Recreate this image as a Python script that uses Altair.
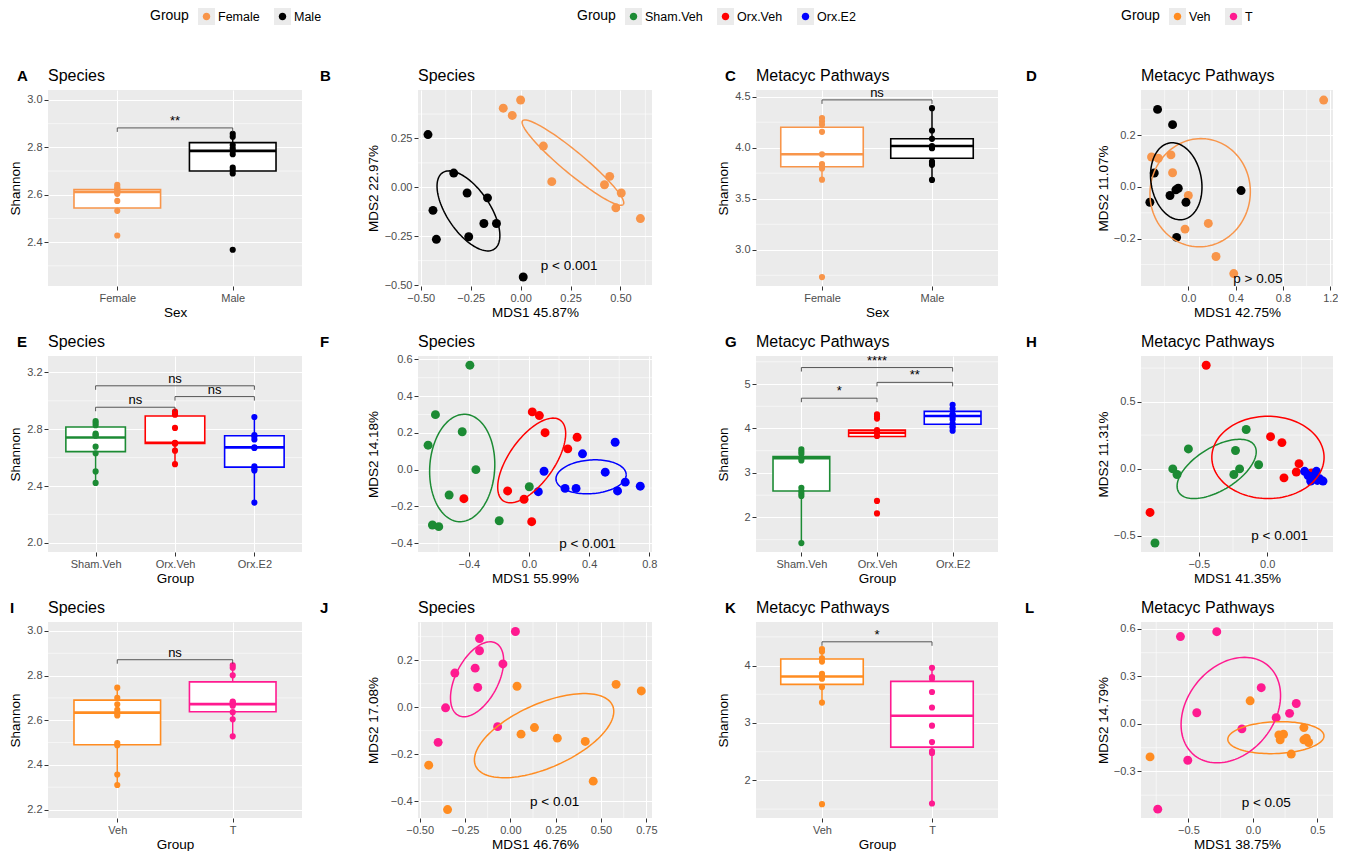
import numpy as np
import pandas as pd
import altair as alt

FONT = "Liberation Sans"
PANEL_BG = "#EBEBEB"
BRACKET = "#444444"

# ---------------- groups / colours ----------------
SEX_GROUPS = ["Female", "Male"]
SEX_COLORS = ["#F8954A", "#000000"]
TRT_GROUPS = ["Sham.Veh", "Orx.Veh", "Orx.E2"]
TRT_COLORS = ["#1C8B34", "#FF0000", "#0000FF"]
T_GROUPS = ["Veh", "T"]
T_COLORS = ["#FF8C21", "#FF1A90"]

# ---------------- A: Species, Shannon by sex ----------------
A_FEMALE = [2.642, 2.632, 2.625, 2.621, 2.615, 2.611, 2.604, 2.574, 2.532, 2.428]
A_MALE = [2.857, 2.845, 2.810, 2.796, 2.785, 2.771, 2.715, 2.704, 2.690, 2.368]
A_STATS = [[2.532, 2.544, 2.612, 2.622, 2.642], [2.690, 2.700, 2.785, 2.820, 2.857]]
A_BRACKETS = [("Female", "Male", 2.882, "**")]

# ---------------- B: Species MDS by sex ----------------
B_F_X = [-0.087, -0.042, 0.000, 0.114, 0.156, 0.420, 0.446, 0.504, 0.477, 0.600]
B_F_Y = [0.405, 0.368, 0.447, 0.211, 0.029, 0.013, 0.056, -0.029, -0.105, -0.160]
B_M_X = [-0.464, -0.335, -0.268, -0.166, -0.439, -0.184, -0.121, -0.422, -0.260, 0.013]
B_M_Y = [0.270, 0.073, -0.029, -0.054, -0.118, -0.185, -0.185, -0.266, -0.253, -0.459]
B_ELL = [[0.2621, 0.1265, 0.2521, -0.2142, 0.0357, 0.0425],
         [-0.2613, -0.1206, 0.1291, -0.1958, 0.0900, 0.0602]]

# ---------------- C: Metacyc, Shannon by sex ----------------
C_FEMALE = [4.290, 4.258, 4.226, 4.155, 3.935, 3.840, 3.816, 3.797, 3.687, 2.732]
C_MALE = [4.387, 4.168, 4.087, 4.016, 4.000, 3.994, 3.865, 3.850, 3.832, 3.684]
C_STATS = [[3.687, 3.813, 3.935, 4.200, 4.290], [3.684, 3.897, 4.016, 4.087, 4.387]]
C_BRACKETS = [("Female", "Male", 4.468, "ns")]

# ---------------- D: Metacyc MDS by sex ----------------
D_F_X = [1.144, -0.311, -0.254, -0.147, -0.133, 0.000, 0.169, -0.028, 0.234, 0.384]
D_F_Y = [0.336, 0.116, 0.111, 0.124, 0.055, -0.033, -0.141, -0.163, -0.269, -0.335]
D_M_X = [-0.260, -0.133, -0.288, -0.325, -0.155, -0.105, -0.085, -0.020, -0.099, 0.446]
D_M_Y = [0.300, 0.241, 0.054, -0.059, -0.033, -0.011, -0.005, -0.059, -0.195, -0.014]
D_ELL = [[0.100, -0.0223, 0.0494, 0.2083, 0.4214, -0.0204],
         [-0.102, 0.022, 0.0565, -0.148, 0.210, 0.0163]]

# ---------------- E: Species, Shannon by treatment ----------------
E_SHAM = [2.858, 2.844, 2.828, 2.770, 2.760, 2.754, 2.677, 2.631, 2.503, 2.422]
E_ORXV = [2.925, 2.912, 2.902, 2.809, 2.705, 2.700, 2.700, 2.649, 2.554]
E_ORXE = [2.886, 2.758, 2.750, 2.728, 2.672, 2.668, 2.538, 2.520, 2.510, 2.283]
E_STATS = [[2.422, 2.642, 2.742, 2.816, 2.858],
           [2.554, 2.700, 2.705, 2.893, 2.925],
           [2.283, 2.533, 2.672, 2.754, 2.886]]
E_BRACKETS = [("Sham.Veh", "Orx.Veh", 2.955, "ns"),
              ("Orx.Veh", "Orx.E2", 3.030, "ns"),
              ("Sham.Veh", "Orx.E2", 3.106, "ns")]

# ---------------- F: Species MDS by treatment ----------------
F_S_X = [-0.393, -0.622, -0.671, -0.444, -0.353, -0.531, 0.002, -0.198, -0.642, -0.600]
F_S_Y = [0.568, 0.299, 0.133, 0.206, 0.000, -0.138, -0.093, -0.278, -0.301, -0.310]
F_V_X = [0.022, 0.069, 0.107, 0.320, 0.258, -0.142, -0.033, -0.433, 0.018]
F_V_Y = [0.314, 0.294, 0.201, 0.176, 0.113, -0.116, -0.161, -0.158, -0.283]
F_E_X = [0.573, 0.356, 0.100, 0.507, 0.640, 0.589, 0.740, 0.062, 0.240, 0.313]
F_E_Y = [0.149, 0.086, -0.009, -0.014, -0.068, -0.116, -0.090, -0.120, -0.102, -0.102]
F_ELL = [[-0.444, 0.009, 0.022, 0.292, 0.2156, -0.0104],
         [0.018, 0.050, 0.189, 0.2195, 0.124, -0.0695],
         [0.413, -0.039, 0.2333, 0.0143, 0.0087, -0.0912]]

# ---------------- G: Metacyc, Shannon by treatment ----------------
G_SHAM = [3.533, 3.480, 3.430, 3.333, 3.281, 2.667, 2.593, 2.533, 2.481, 1.422]
G_ORXV = [4.318, 4.274, 4.222, 3.963, 3.930, 3.904, 3.830, 2.370, 2.089]
G_ORXE = [4.533, 4.444, 4.318, 4.300, 4.260, 4.200, 4.111, 4.050, 4.015, 3.948]
G_STATS = [[1.422, 2.593, 3.333, 3.370, 3.533],
           [3.820, 3.820, 3.904, 3.963, 3.963],
           [3.948, 4.096, 4.281, 4.385, 4.533]]
G_BRACKETS = [("Sham.Veh", "Orx.Veh", 4.681, "*"),
              ("Orx.Veh", "Orx.E2", 5.037, "**"),
              ("Sham.Veh", "Orx.E2", 5.370, "****")]

# ---------------- H: Metacyc MDS by treatment ----------------
H_S_X = [-0.154, -0.576, -0.232, -0.690, -0.659, -0.202, -0.244, -0.063, -0.820]
H_S_Y = [0.292, 0.147, 0.135, -0.002, -0.044, -0.002, -0.044, 0.029, -0.555]
H_V_X = [-0.446, 0.024, 0.107, 0.232, 0.212, 0.122, -0.856, 0.322]
H_V_Y = [0.771, 0.238, 0.194, 0.037, -0.025, -0.069, -0.327, -0.032]
H_E_X = [0.273, 0.359, 0.334, 0.317, 0.366, 0.407, 0.383, 0.298]
H_E_Y = [-0.020, -0.020, -0.057, -0.093, -0.088, -0.093, -0.076, -0.052]
H_ELL = [[-0.3695, -0.0025, 0.2763, 0.1749, 0.0844, -0.1354],
         [0.005, 0.0835, 0.4098, 0.0, 0.0, 0.3071]]

# ---------------- I: Species, Shannon Veh vs T ----------------
I_VEH = [2.746, 2.700, 2.671, 2.646, 2.631, 2.621, 2.498, 2.488, 2.357, 2.310]
I_T = [2.846, 2.835, 2.801, 2.683, 2.680, 2.672, 2.665, 2.636, 2.604, 2.528]
I_STATS = [[2.310, 2.490, 2.634, 2.690, 2.746], [2.528, 2.638, 2.672, 2.772, 2.846]]
I_BRACKETS = [("Veh", "T", 2.871, "ns")]

# ---------------- J: Species MDS Veh vs T ----------------
J_V_X = [0.037, 0.583, 0.722, 0.059, 0.133, 0.259, 0.413, 0.457, -0.450, -0.346]
J_V_Y = [0.089, 0.097, 0.069, -0.115, -0.087, -0.132, -0.146, -0.315, -0.247, -0.436]
J_T_X = [-0.170, -0.170, -0.194, -0.306, -0.180, -0.041, 0.028, -0.357, -0.070, -0.398]
J_T_Y = [0.292, 0.240, 0.166, 0.145, 0.084, 0.184, 0.322, -0.003, -0.083, -0.150]
J_ELL = [[0.1861, -0.1215, 0.377, 0.1294, 0.0739, -0.1239],
         [-0.1833, 0.1187, 0.102, 0.1544, 0.1052, -0.0399]]

# ---------------- K: Metacyc, Shannon Veh vs T ----------------
K_VEH = [4.287, 4.247, 4.126, 4.069, 3.856, 3.828, 3.770, 3.626, 3.356, 1.586]
K_T = [3.960, 3.799, 3.770, 3.540, 3.270, 2.954, 2.667, 2.506, 2.477, 1.598]
K_STATS = [[3.356, 3.672, 3.810, 4.115, 4.287], [1.598, 2.580, 3.126, 3.724, 3.960]]
K_BRACKETS = [("Veh", "T", 4.414, "*")]

# ---------------- L: Metacyc MDS Veh vs T ----------------
L_V_X = [-0.021, 0.396, 0.238, 0.202, 0.212, 0.396, 0.433, 0.298, -0.798, 0.415]
L_V_Y = [0.146, -0.023, -0.065, -0.069, -0.100, -0.100, -0.117, -0.190, -0.208, -0.090]
L_T_X = [-0.562, -0.280, 0.065, 0.337, 0.285, 0.181, -0.435, -0.085, -0.505, -0.738]
L_T_Y = [0.552, 0.583, 0.229, 0.129, 0.067, 0.040, 0.071, -0.031, -0.229, -0.538]
L_ELL = [[0.1788, -0.0865, 0.373, 0.0119, 0.0049, -0.1004],
         [-0.171, 0.0875, 0.2777, 0.2885, 0.2681, -0.1669]]

# ---------------- layout ----------------
W_COLS = [254, 234, 242, 192]
H = 196
LEFT = [40, 98, 86, 125]
RIGHT = [12, 12, 12, 4]
TOP = 30
BOT = 32
Y_EXT = [22, 34, 22, 27]


def minors(ticks, dom):
    step = ticks[1] - ticks[0]
    cands = [ticks[0] - step / 2] + [(a + b) / 2 for a, b in zip(ticks, ticks[1:])] + [ticks[-1] + step / 2]
    return [c for c in cands if dom[0] < c < dom[1]]


def spacer(col):
    return alt.Chart(pd.DataFrame({"s": [0]})).mark_rule(opacity=0).encode(
        x=alt.value(-LEFT[col]), x2=alt.value(W_COLS[col] + RIGHT[col]),
        y=alt.value(-TOP), y2=alt.value(H + BOT))


def heading(letter, ldx, title):
    df = pd.DataFrame({"s": [0]})
    let = alt.Chart(df).mark_text(text=letter, align="left", baseline="alphabetic", fontSize=15,
                                  fontWeight="bold", color="black").encode(
        x=alt.value(-ldx), y=alt.value(-9))
    tit = alt.Chart(df).mark_text(text=title, align="left", baseline="alphabetic", fontSize=16,
                                  color="black").encode(x=alt.value(0), y=alt.value(-9))
    return [let, tit]


def box_panel(col, groups, colors, values, stats, brackets, ydom, yticks, yfmt,
              xtitle, title, letter, ldx):
    W = W_COLS[col]
    n = len(groups)
    xs = alt.Scale(domain=[0.4, n + 0.6], nice=False, zero=False)
    ys = alt.Scale(domain=ydom, nice=False, zero=False)
    names = ",".join("'%s'" % g for g in groups)
    xax = alt.Axis(title=xtitle, values=list(range(1, n + 1)),
                   labelExpr="[%s][round(datum.value) - 1]" % names)
    yax = alt.Axis(title="Shannon", values=yticks, format=yfmt, minExtent=Y_EXT[col],
                   maxExtent=Y_EXT[col], titlePadding=4)

    def X(f):
        return alt.X(f + ":Q", scale=xs, axis=xax)

    def Y(f):
        return alt.Y(f + ":Q", scale=ys, axis=yax)

    cenc = alt.Color("g:N", scale=alt.Scale(domain=groups, range=colors), legend=None)
    pts = pd.DataFrame([(g, i + 1, v) for i, (g, vs) in enumerate(zip(groups, values)) for v in vs],
                       columns=["g", "i", "v"])
    st = pd.DataFrame({"g": groups, "i": list(range(1, n + 1)),
                       "lo": [s[0] for s in stats], "q1": [s[1] for s in stats],
                       "med": [s[2] for s in stats], "q3": [s[3] for s in stats],
                       "hi": [s[4] for s in stats]})
    st["x1"] = st["i"] - 0.375
    st["x2"] = st["i"] + 0.375
    idx = {g: i + 1 for i, g in enumerate(groups)}
    tip = 4 * (ydom[1] - ydom[0]) / H
    br = pd.DataFrame({"i1": [idx[b[0]] for b in brackets], "i2": [idx[b[1]] for b in brackets],
                       "y": [b[2] for b in brackets], "lab": [b[3] for b in brackets]})
    br["mid"] = (br["i1"] + br["i2"]) / 2
    tips = pd.DataFrame({"i": list(br["i1"]) + list(br["i2"]),
                         "y": list(br["y"]) * 2})
    tips["yt"] = tips["y"] - tip

    layers = [
        spacer(col),
        alt.Chart(pd.DataFrame({"v": minors(yticks, ydom)})).mark_rule(
            color="white", strokeWidth=0.55).encode(y=Y("v")),
        alt.Chart(st).mark_rule(strokeWidth=1.5).encode(x=X("i"), y=Y("lo"), y2="hi:Q", color=cenc),
        alt.Chart(st).mark_rect(color="white").encode(x=X("x1"), x2="x2:Q", y=Y("q1"), y2="q3:Q"),
        alt.Chart(st).mark_rect(filled=False, strokeWidth=1.6).encode(
            x=X("x1"), x2="x2:Q", y=Y("q1"), y2="q3:Q", color=cenc),
        alt.Chart(st).mark_rule(strokeWidth=2.6).encode(x=X("x1"), x2="x2:Q", y=Y("med"), color=cenc),
        alt.Chart(pts).mark_circle(size=38, opacity=1).encode(x=X("i"), y=Y("v"), color=cenc),
        alt.Chart(br).mark_rule(color=BRACKET, strokeWidth=0.9).encode(x=X("i1"), x2="i2:Q", y=Y("y")),
        alt.Chart(tips).mark_rule(color=BRACKET, strokeWidth=0.9).encode(x=X("i"), y=Y("y"), y2="yt:Q"),
        alt.Chart(br).mark_text(baseline="alphabetic", dy=-3, fontSize=13, color="black").encode(
            x=X("mid"), y=Y("y"), text="lab:N"),
    ] + heading(letter, ldx, title)
    return alt.layer(*layers).properties(
        width=W, height=H, view=alt.ViewBackground(fill=PANEL_BG, strokeWidth=0))


def ellipse_frame(groups, params):
    t = np.linspace(0, 2 * np.pi, 121)
    rows = []
    for g, (cx, cy, ax, ay, bx, by) in zip(groups, params):
        for k, tt in enumerate(t):
            rows.append((g, k, cx + ax * np.cos(tt) + bx * np.sin(tt),
                         cy + ay * np.cos(tt) + by * np.sin(tt)))
    return pd.DataFrame(rows, columns=["g", "k", "x", "y"])


def mds_panel(col, groups, colors, xs_list, ys_list, ell_groups, ell_params,
              xdom, xticks, xfmt, ydom, yticks, yfmt, xtitle, ytitle,
              ptext, ppos, title, letter, ldx):
    W = W_COLS[col]
    xs = alt.Scale(domain=xdom, nice=False, zero=False)
    ys = alt.Scale(domain=ydom, nice=False, zero=False)
    xax = alt.Axis(title=xtitle, values=xticks, format=xfmt)
    yax = alt.Axis(title=ytitle, values=yticks, format=yfmt, minExtent=Y_EXT[col],
                   maxExtent=Y_EXT[col], titlePadding=4)

    def X(f):
        return alt.X(f + ":Q", scale=xs, axis=xax)

    def Y(f):
        return alt.Y(f + ":Q", scale=ys, axis=yax)

    cenc = alt.Color("g:N", scale=alt.Scale(domain=groups, range=colors), legend=None)
    pts = pd.DataFrame([(g, x, y) for g, xl, yl in zip(groups, xs_list, ys_list)
                        for x, y in zip(xl, yl)], columns=["g", "x", "y"])
    ell = ellipse_frame(ell_groups, ell_params)
    ann = pd.DataFrame({"x": [ppos[0]], "y": [ppos[1]], "t": [ptext]})
    layers = [
        spacer(col),
        alt.Chart(pd.DataFrame({"v": minors(xticks, xdom)})).mark_rule(
            color="white", strokeWidth=0.55).encode(x=X("v")),
        alt.Chart(pd.DataFrame({"v": minors(yticks, ydom)})).mark_rule(
            color="white", strokeWidth=0.55).encode(y=Y("v")),
        alt.Chart(pts).mark_circle(size=80, opacity=1).encode(x=X("x"), y=Y("y"), color=cenc),
        alt.Chart(ell).mark_line(strokeWidth=1.5).encode(
            x=X("x"), y=Y("y"), color=cenc, detail="g:N", order=alt.Order("k:Q")),
        alt.Chart(ann).mark_text(fontSize=13.5, color="black").encode(x=X("x"), y=Y("y"), text="t:N"),
    ] + heading(letter, ldx, title)
    return alt.layer(*layers).properties(
        width=W, height=H, view=alt.ViewBackground(fill=PANEL_BG, strokeWidth=0))


pA = box_panel(0, SEX_GROUPS, SEX_COLORS, [A_FEMALE, A_MALE], A_STATS, A_BRACKETS,
               [2.215, 3.042], [2.4, 2.6, 2.8, 3.0], ".1f", "Sex", "Species", "A", 31)
pB = mds_panel(1, SEX_GROUPS, SEX_COLORS, [B_F_X, B_M_X], [B_F_Y, B_M_Y], SEX_GROUPS, B_ELL,
               [-0.514, 0.658], [-0.5, -0.25, 0.0, 0.25, 0.5], ".2f",
               [-0.505, 0.498], [-0.5, -0.25, 0.0, 0.25], ".2f",
               "MDS1 45.87%", "MDS2 22.97%", "p < 0.001", (0.243, -0.405), "Species", "B", 98)
pC = box_panel(2, SEX_GROUPS, SEX_COLORS, [C_FEMALE, C_MALE], C_STATS, C_BRACKETS,
               [2.645, 4.565], [3.0, 3.5, 4.0, 4.5], ".1f", "Sex", "Metacyc Pathways", "C", 31)
pD = mds_panel(3, SEX_GROUPS, SEX_COLORS, [D_F_X, D_M_X], [D_F_Y, D_M_Y], SEX_GROUPS, D_ELL,
               [-0.40, 1.223], [0.0, 0.4, 0.8, 1.2], ".1f",
               [-0.383, 0.375], [-0.2, 0.0, 0.2], ".1f",
               "MDS1 42.75%", "MDS2 11.07%", "p > 0.05", (0.588, -0.355), "Metacyc Pathways", "D", 115)
pE = box_panel(0, TRT_GROUPS, TRT_COLORS, [E_SHAM, E_ORXV, E_ORXE], E_STATS, E_BRACKETS,
               [1.935, 3.316], [2.0, 2.4, 2.8, 3.2], ".1f", "Group", "Species", "E", 31)
pF = mds_panel(1, TRT_GROUPS, TRT_COLORS, [F_S_X, F_V_X, F_E_X], [F_S_Y, F_V_Y, F_E_Y],
               TRT_GROUPS, F_ELL,
               [-0.738, 0.818], [-0.4, 0.0, 0.4, 0.8], ".1f",
               [-0.448, 0.618], [-0.4, -0.2, 0.0, 0.2, 0.4, 0.6], ".1f",
               "MDS1 55.99%", "MDS2 14.18%", "p < 0.001", (0.389, -0.403), "Species", "F", 98)
pG = box_panel(2, TRT_GROUPS, TRT_COLORS, [G_SHAM, G_ORXV, G_ORXE], G_STATS, G_BRACKETS,
               [1.222, 5.63], [2, 3, 4, 5], "d", "Group", "Metacyc Pathways", "G", 31)
pH = mds_panel(3, TRT_GROUPS, TRT_COLORS, [H_S_X, H_V_X, H_E_X], [H_S_Y, H_V_Y, H_E_Y],
               TRT_GROUPS[:2], H_ELL,
               [-0.922, 0.48], [-0.5, 0.0], ".1f",
               [-0.622, 0.84], [-0.5, 0.0, 0.5], ".1f",
               "MDS1 41.35%", "MDS2 11.31%", "p < 0.001", (0.09, -0.504), "Metacyc Pathways", "H", 115)
pI = box_panel(0, T_GROUPS, T_COLORS, [I_VEH, I_T], I_STATS, I_BRACKETS,
               [2.162, 3.04], [2.2, 2.4, 2.6, 2.8, 3.0], ".1f", "Group", "Species", "I", 38)
pJ = mds_panel(1, T_GROUPS, T_COLORS, [J_V_X, J_T_X], [J_V_Y, J_T_Y], T_GROUPS, J_ELL,
               [-0.509, 0.781], [-0.5, -0.25, 0.0, 0.25, 0.5, 0.75], ".2f",
               [-0.472, 0.3625], [-0.4, -0.2, 0.0, 0.2], ".1f",
               "MDS1 46.76%", "MDS2 17.08%", "p < 0.01", (0.244, -0.402), "Species", "J", 98)
pK = box_panel(2, T_GROUPS, T_COLORS, [K_VEH, K_T], K_STATS, K_BRACKETS,
               [1.345, 4.759], [2, 3, 4], "d", "Group", "Metacyc Pathways", "K", 31)
pL = mds_panel(3, T_GROUPS, T_COLORS, [L_V_X, L_T_X], [L_V_Y, L_T_Y], T_GROUPS, L_ELL,
               [-0.868, 0.622], [-0.5, 0.0, 0.5], ".1f",
               [-0.594, 0.644], [-0.3, 0.0, 0.3, 0.6], ".1f",
               "MDS1 38.75%", "MDS2 14.79%", "p < 0.05", (0.104, -0.502), "Metacyc Pathways", "L", 116)

DOT_PATH = "M0.44,0A0.44,0.44 0 1,1 -0.44,0A0.44,0.44 0 1,1 0.44,0Z"


def legend_pair(groups, colors, field, lx):
    df = pd.DataFrame({field: groups, field + "_bg": groups})
    common = dict(title="Group", orient="none", legendX=lx, legendY=0, direction="horizontal",
                  titleOrient="left", symbolSize=289, symbolStrokeWidth=0, symbolOpacity=1,
                  labelFontSize=12.5, labelColor="black", labelOffset=3,
                  titleFontSize=14, titleFontWeight="normal", titleColor="black",
                  titlePadding=9, columnPadding=14)
    bg = alt.Chart(df).mark_square(opacity=0).encode(
        color=alt.Color(field + "_bg:N",
                        scale=alt.Scale(domain=groups, range=[PANEL_BG] * len(groups)),
                        legend=alt.Legend(symbolType="square", labelOpacity=0, titleOpacity=0,
                                          zindex=0, **common)))
    fg = alt.Chart(df).mark_circle(opacity=0).encode(
        color=alt.Color(field + ":N", scale=alt.Scale(domain=groups, range=colors),
                        legend=alt.Legend(symbolType=DOT_PATH, zindex=1, **common)))
    return [bg, fg]


legend_chart = alt.layer(
    *(legend_pair(SEX_GROUPS, SEX_COLORS, "sex", 102)
      + legend_pair(TRT_GROUPS, TRT_COLORS, "trt", 529)
      + legend_pair(T_GROUPS, T_COLORS, "tt", 1073))
).resolve_scale(color="independent").properties(
    width=1000, height=22, view=alt.ViewBackground(strokeWidth=0))

grid = alt.concat(pA, pB, pC, pD, pE, pF, pG, pH, pI, pJ, pK, pL, columns=4,
                  spacing={"row": 7, "column": 6}, align="each").resolve_scale(color="independent")

chart = alt.vconcat(legend_chart, grid, spacing=30).resolve_scale(color="independent").properties(
    padding=0
).configure(font=FONT).configure_view(strokeWidth=0).configure_axis(
    domain=False, grid=True, gridColor="white", gridWidth=1.1, tickColor="#333333", tickSize=4,
    labelPadding=2, labelColor="#4D4D4D", labelFontSize=11, titleFontSize=13.5, titlePadding=2,
    titleFontWeight="normal", titleColor="black", labelFont=FONT, titleFont=FONT
).configure_text(font=FONT).configure_legend(labelFont=FONT, titleFont=FONT)

chart.save("out.html", embed_options={"renderer": "svg", "actions": False})
